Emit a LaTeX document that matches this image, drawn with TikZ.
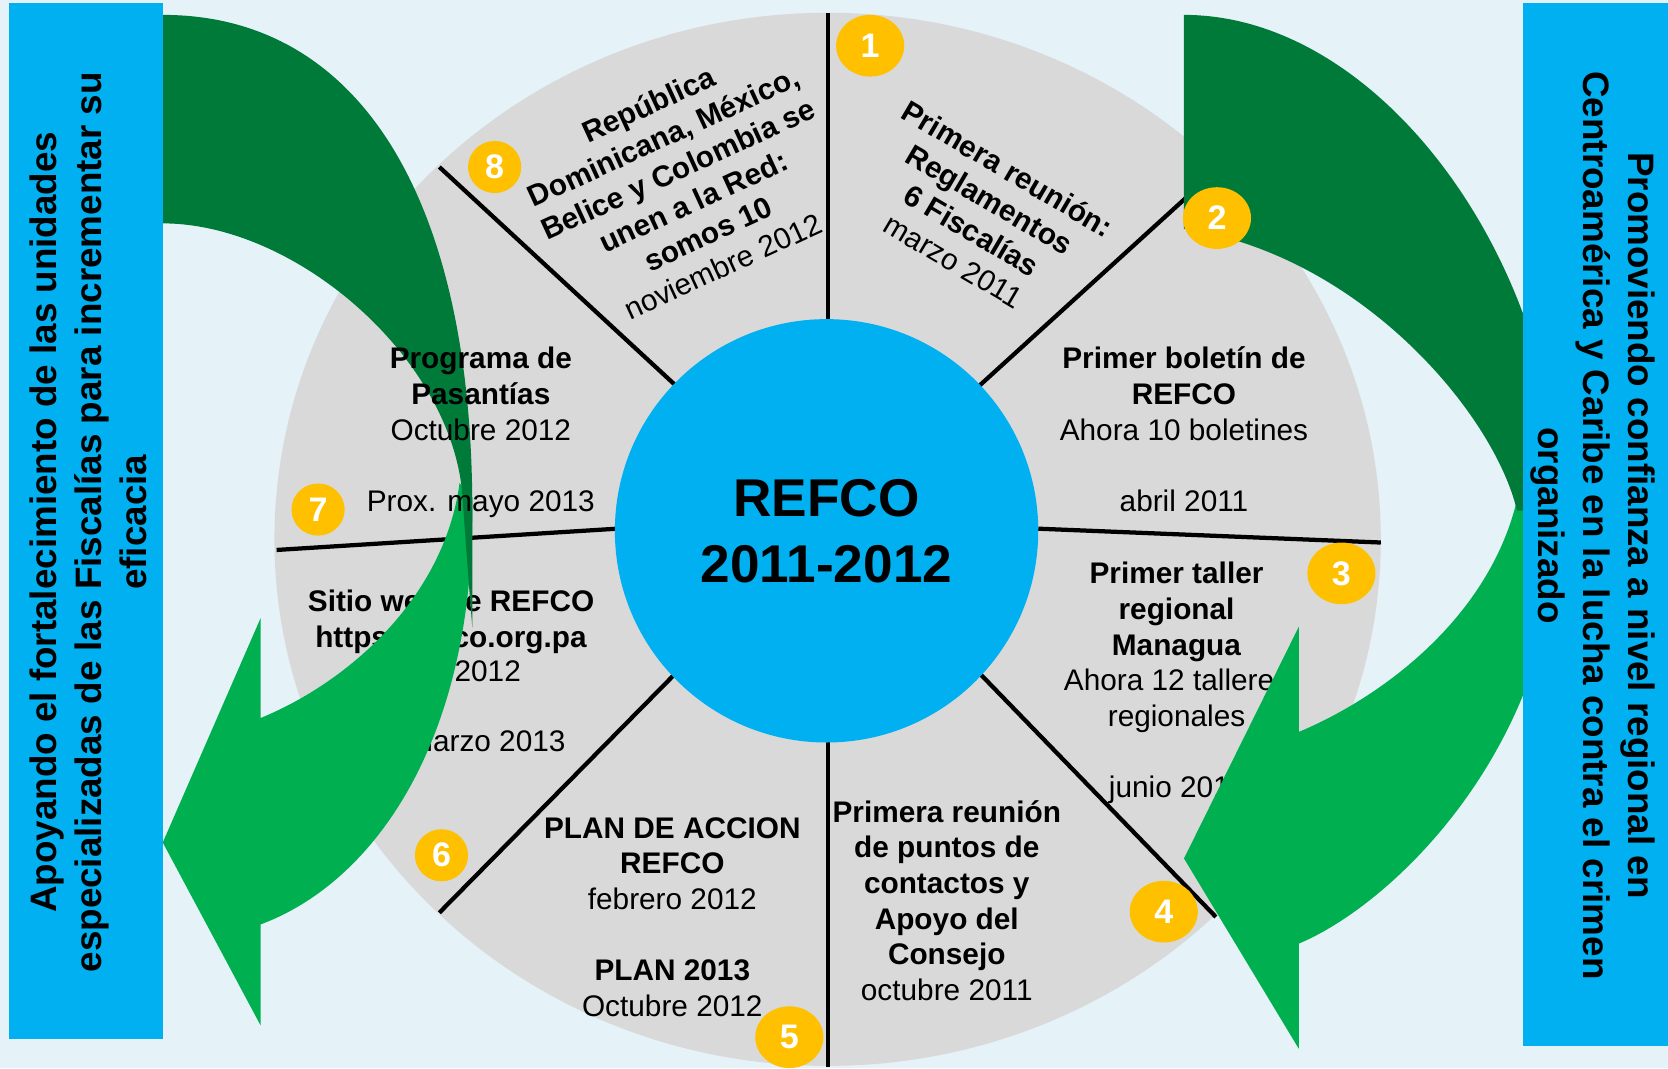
\documentclass[tikz,border=0pt]{standalone}
\usepackage{fontspec}
\setmainfont{Liberation Sans}
\usetikzlibrary{shapes.geometric}
\definecolor{bgc}{RGB}{229,242,248}
\definecolor{grayc}{RGB}{217,217,217}
\definecolor{bluec}{RGB}{0,176,240}
\definecolor{dgreen}{RGB}{0,122,57}
\definecolor{lgreen}{RGB}{0,176,80}
\definecolor{gold}{RGB}{255,192,0}
\begin{document}
\begin{tikzpicture}[x=0.5pt,y=-0.5pt,
  segtext/.style={align=center, font=\fontsize{14}{16.75}\selectfont, inner sep=0pt},
  badge/.style={ellipse, fill=gold, text=white, font=\fontsize{16}{16}\selectfont\bfseries, inner sep=0pt},
  bigbadge/.style={badge, minimum width=32pt, minimum height=29pt},
  smallbadge/.style={badge, minimum width=25pt, minimum height=24.5pt},
  spoke/.style={line width=2pt, black},
  sidetext/.style={align=center, font=\fontsize{17.3}{21}\selectfont\bfseries, inner sep=0pt}]
\useasboundingbox (0,0) rectangle (1568,1004);
\fill[bgc] (0,0) rectangle (1568,1004);
% gray disc
\fill[grayc] (778,507) ellipse [x radius=520, y radius=495];
% spokes
\coordinate (Li1) at (778,312);  \coordinate (Lo1) at (778,12);
\coordinate (Li2) at (918,365);  \coordinate (Lo2) at (1150,154);
\coordinate (Li3) at (976,497);  \coordinate (Lo3) at (1298,510);
\coordinate (Li4) at (918,630);  \coordinate (Lo4) at (1143,862);
\coordinate (Li5) at (778,683);  \coordinate (Lo5) at (778,1003);
\coordinate (Li6) at (638,630);  \coordinate (Lo6) at (413,858);
\coordinate (Li7) at (580,497);  \coordinate (Lo7) at (260,517);
\coordinate (Li8) at (638,365);  \coordinate (Lo8) at (413,157);
\foreach \k in {1,...,8} \draw[spoke] (Li\k) -- (Lo\k);
% hub
\node[circle, fill=bluec, minimum size=199pt, inner sep=0pt,
      align=center, font=\fontsize{25}{31}\selectfont\bfseries] (hub) at (777,499) {REFCO\\2011-2012};
% segment texts below the arrows
\node[segtext, rotate=-30.5] (s1) at (922,202) {\textbf{Primera reunión:}\\\textbf{Reglamentos}\\\textbf{6 Fiscalías}\\marzo 2011};
\node[segtext] (s2) at (1113,403.5) {\textbf{Primer boletín de}\\\textbf{REFCO}\\Ahora 10 boletines\\[16.75pt]abril 2011};
\node[segtext] (s3) at (1106,642) {\textbf{Primer taller}\\\textbf{regional}\\\textbf{Managua}\\Ahora 12 talleres\\regionales\\[16.75pt]junio 2011};
\node[segtext] (s4) at (890,846.5) {\textbf{Primera reunión}\\\textbf{de puntos de}\\\textbf{contactos y}\\\textbf{Apoyo del}\\\textbf{Consejo}\\octubre 2011};
\node[segtext] (s5) at (632,862) {\textbf{PLAN DE ACCION}\\\textbf{REFCO}\\febrero 2012\\[16.75pt]\textbf{PLAN 2013}\\Octubre 2012};
\node[segtext] (s6) at (424,584.5) {\textbf{Sitio web de REFCO}\\\textbf{https://refco.org.pa}};
\node[segtext, anchor=east] (s6b) at (490,631) {2012};
\node[segtext, anchor=east] (s6c) at (532,697) {marzo 2013};
\node[segtext, rotate=24.7] (s8) at (644.5,174) {\textbf{República}\\\textbf{Dominicana, México,}\\\textbf{Belice y Colombia se}\\\textbf{unen a la Red:}\\\textbf{somos 10}\\noviembre 2012};
% left curved arrow
\fill[lgreen] (432,454) -- (444,468) -- (444,480) .. controls (444,700) and (350,830) .. (245,869)
  -- (245,964) -- (153,792) -- (245,581) -- (245,675)
  .. controls (330,640) and (418,560) .. (432,454) -- cycle;
\fill[dgreen] (150,14) -- (153,14) .. controls (340,14) and (444,190) .. (444,480) -- (444,590)
  .. controls (440,540) and (437,500) .. (435,470)
  .. controls (428,340) and (280,210) .. (153,210) -- (150,210) -- cycle;
% right curved arrow
\fill[lgreen] (1426,470) -- (1466,470) -- (1466,480) .. controls (1466,700) and (1310,850) .. (1221,887)
  -- (1221,986) -- (1113,807) -- (1221,589) -- (1221,688)
  .. controls (1300,655) and (1400,580) .. (1426,470) -- cycle;
\fill[dgreen] (1113,14) .. controls (1300,14) and (1466,250) .. (1466,480) -- (1426,480)
  .. controls (1405,390) and (1280,240) .. (1113,215) -- cycle;
% segment text above the arrows
\node[segtext] (s7) at (452,406.5) {\textbf{Programa de}\\\textbf{Pasantías}\\Octubre 2012\\[16.75pt]Prox. mayo 2013};
% side boxes
\fill[bluec] (8,3) rectangle (153,977);
\fill[bluec] (1432,3) rectangle (1568,983);
\node[sidetext, rotate=90] (lefttxt) at (83,491) {Apoyando el fortalecimiento de las unidades\\especializadas de las Fiscalías para incrementar su\\eficacia};
\node[sidetext, rotate=-90] (righttxt) at (1497.5,494) {Promoviendo confianza a nivel regional en\\Centroamérica y Caribe en la lucha contra el crimen\\organizado};
% badges
\node[bigbadge] (b1) at (818,43) {1};
\node[bigbadge] (b2) at (1144,205) {2};
\node[bigbadge] (b3) at (1261,539) {3};
\node[bigbadge] (b4) at (1094,857) {4};
\node[bigbadge] (b5) at (742,975) {5};
\node[smallbadge] (b6) at (415,804) {6};
\node[smallbadge] (b7) at (299,479) {7};
\node[smallbadge] (b8) at (465,157) {8};
\end{tikzpicture}
\end{document}
